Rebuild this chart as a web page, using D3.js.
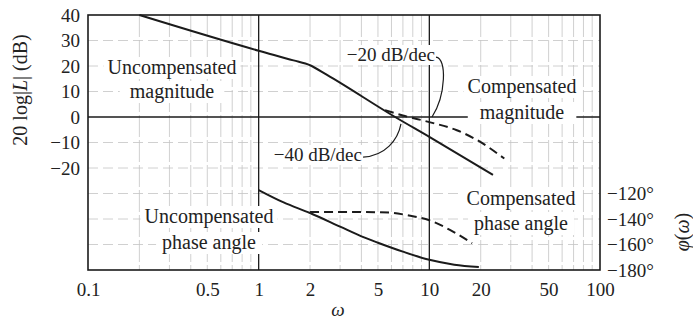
<!DOCTYPE html>
<html><head><meta charset="utf-8">
<script src="https://cdn.jsdelivr.net/npm/d3@7/dist/d3.min.js"></script>
<style>
html,body{margin:0;padding:0;background:#fff;}
text{font-family:"Liberation Serif","DejaVu Serif",serif;fill:#222;}
</style></head>
<body><svg id="c" width="693" height="328"></svg>
<script>
// ---- data ----
const magTicks = [40, 30, 20, 10, 0, -10, -20];
const phaseTicks = [-120, -140, -160, -180];
const freqTicks = [0.1, 0.5, 1, 2, 5, 10, 20, 50, 100];
const minorFreqs = [0.2,0.3,0.4,0.5,0.6,0.7,0.8,0.9,2,3,4,5,6,7,8,9,20,30,40,50,60,70,80,90];
const majorFreqs = [1, 10];
const magGrid = [30, 20, 10, -10, -20];
const phaseGrid = [-120, -140, -160];

const uncompMagW  = [0.2, 1, 1.6, 2, 2.5, 6.3, 10, 23.6];
const uncompMagDB = [40, 26, 22.2, 20.3, 16.6, 0, -7.8, -22.7];
const compMagW    = [5.5, 7, 10, 14.5, 19, 27.5];
const compMagDB   = [2.7, 0.6, -2, -5.2, -9, -16.3];

const uncompPhW   = [1, 1.4, 2, 3, 4, 5, 7, 10, 14, 19.5];
const uncompPhDeg = [-117.3, -127, -135.3, -146, -153.6, -158.6, -165.6, -172, -175.8, -177.7];
const compPhW     = [2, 4, 5.9, 7.4, 10, 13.2, 17.8];
const compPhDeg   = [-134.5, -134.5, -135, -137, -141, -148.5, -159];

// leader curves for slope annotations (omega, dB)
const lead20W  = [10.94, 12.69, 12.52, 10.37];
const lead20DB = [23.5, 23.1, 8.6, 0];
const lead40W  = [4.09, 5.50, 6.55, 6.82];
const lead40DB = [-15.7, -15.3, -9.0, -2.7];

// ---- layout ----
const L = 88, R = 600, T = 15, B = 270;
const svg = d3.select("#c");
const x = d3.scaleLog().domain([0.1, 100]).range([L, R]);
const yM = d3.scaleLinear().domain([-60, 40]).range([B, T]);
const yP = d3.scaleLinear().domain([-180, 20]).range([B, T]);
const minus = v => (v < 0 ? "\u2212" + Math.abs(v) : "" + v);
const ink = "#1b1b1b";
const gridCol = "#c4c4c4";

// grid
const g = svg.append("g");
g.selectAll("line.minor").data(minorFreqs).join("line")
  .attr("x1", d => x(d)).attr("x2", d => x(d)).attr("y1", T).attr("y2", B)
  .attr("stroke", gridCol).attr("stroke-width", 0.8).attr("stroke-dasharray", "22,3");
g.selectAll("line.hm").data(magGrid).join("line")
  .attr("x1", L).attr("x2", R).attr("y1", d => yM(d)).attr("y2", d => yM(d))
  .attr("stroke", gridCol).attr("stroke-width", 0.8).attr("stroke-dasharray", "10,5");
g.selectAll("line.hp").data(phaseGrid).join("line")
  .attr("x1", L).attr("x2", R).attr("y1", d => yP(d)).attr("y2", d => yP(d))
  .attr("stroke", gridCol).attr("stroke-width", 0.8).attr("stroke-dasharray", "10,5");

// major lines
const maj = svg.append("g");
maj.selectAll("line").data(majorFreqs).join("line")
  .attr("x1", d => x(d)).attr("x2", d => x(d)).attr("y1", T).attr("y2", B)
  .attr("stroke", ink).attr("stroke-width", 1.3);
maj.append("line").attr("x1", L).attr("x2", R).attr("y1", yM(0)).attr("y2", yM(0))
  .attr("stroke", ink).attr("stroke-width", 1.3);

// labels with white boxes
const labels = svg.append("g");
function boxedText(txt, cx, y, anchor, size, pad) {
  const t = labels.append("text").attr("x", cx).attr("y", y)
    .attr("text-anchor", anchor).attr("font-size", size).text(txt);
  const bb = t.node().getBBox();
  labels.insert("rect", "text").attr("x", bb.x - pad).attr("y", bb.y + 1)
    .attr("width", bb.width + 2 * pad).attr("height", bb.height - 1).attr("fill", "#fff");
  return t;
}
boxedText("Uncompensated", 172, 74, "middle", 20, 4);
boxedText("magnitude", 172, 98, "middle", 20, 10);
boxedText("Compensated", 522, 93, "middle", 20, 4);
boxedText("magnitude", 522, 119, "middle", 20, 12);
boxedText("Uncompensated", 209, 223, "middle", 20, 4);
boxedText("phase angle", 209, 249, "middle", 20, 6);
boxedText("Compensated", 521, 205, "middle", 20, 4);
boxedText("phase angle", 521, 230, "middle", 20, 6);
boxedText("\u221220 dB/dec", 435, 61, "end", 19, 2);
boxedText("\u221240 dB/dec", 362, 161, "end", 19, 2);

// curves
const lineM = d3.line().x(d => x(d[0])).y(d => yM(d[1])).curve(d3.curveMonotoneX);
const lineP = d3.line().x(d => x(d[0])).y(d => yP(d[1])).curve(d3.curveMonotoneX);
const zip = (a, b) => a.map((v, i) => [v, b[i]]);
const curves = svg.append("g").attr("fill", "none").attr("stroke", ink).attr("stroke-width", 2);
curves.append("path").attr("d", lineM(zip(uncompMagW, uncompMagDB)));
curves.append("path").attr("d", lineM(zip(compMagW, compMagDB))).attr("stroke-dasharray", "9,5");
curves.append("path").attr("d", lineP(zip(uncompPhW, uncompPhDeg)));
curves.append("path").attr("d", lineP(zip(compPhW, compPhDeg))).attr("stroke-dasharray", "9,5");

// leaders (cubic bezier through control points)
function bez(ws, ds) {
  const p = ws.map((w, i) => [x(w), yM(ds[i])]);
  return `M${p[0]}C${p[1]} ${p[2]} ${p[3]}`;
}
const lead = svg.append("g").attr("fill", "none").attr("stroke", ink).attr("stroke-width", 1.2);
lead.append("path").attr("d", bez(lead20W, lead20DB));
lead.append("path").attr("d", bez(lead40W, lead40DB));

// frame
svg.append("rect").attr("x", L).attr("y", T).attr("width", R - L).attr("height", B - T)
  .attr("fill", "none").attr("stroke", ink).attr("stroke-width", 1.6);

// axes
const fontAxis = a => a.selectAll("text").attr("font-size", 19).style("font-family", '"Liberation Serif",serif').attr("fill", "#222");
svg.append("g").attr("transform", `translate(${L},0)`)
  .call(d3.axisLeft(yM).tickValues(magTicks).tickSize(0).tickPadding(8).tickFormat(minus))
  .call(a => a.select(".domain").remove()).call(fontAxis);
svg.append("g").attr("transform", `translate(${R},0)`)
  .call(d3.axisRight(yP).tickValues(phaseTicks).tickSize(0).tickPadding(7).tickFormat(d => minus(d) + "\u00b0"))
  .call(a => a.select(".domain").remove()).call(fontAxis);
svg.append("g").attr("transform", `translate(0,${B})`)
  .call(d3.axisBottom(x).tickValues(freqTicks).tickSize(0).tickPadding(12.5).tickFormat(d => "" + d))
  .call(a => a.select(".domain").remove()).call(fontAxis);

// axis titles
svg.append("text").attr("x", 338).attr("y", 316).attr("text-anchor", "middle")
  .attr("font-size", 19).attr("font-style", "italic").text("\u03c9");
const yt = svg.append("text").attr("transform", "translate(27,90) rotate(-90)")
  .attr("text-anchor", "middle").attr("font-size", 20);
yt.append("tspan").text("20 log|");
yt.append("tspan").attr("font-style", "italic").text("L");
yt.append("tspan").text("| (dB)");
const pt = svg.append("text").attr("transform", "translate(689,232) rotate(-90)")
  .attr("text-anchor", "middle").attr("font-size", 20);
pt.append("tspan").attr("font-style", "italic").text("\u03c6");
pt.append("tspan").text("(");
pt.append("tspan").attr("font-style", "italic").text("\u03c9");
pt.append("tspan").text(")");
</script></body></html>
